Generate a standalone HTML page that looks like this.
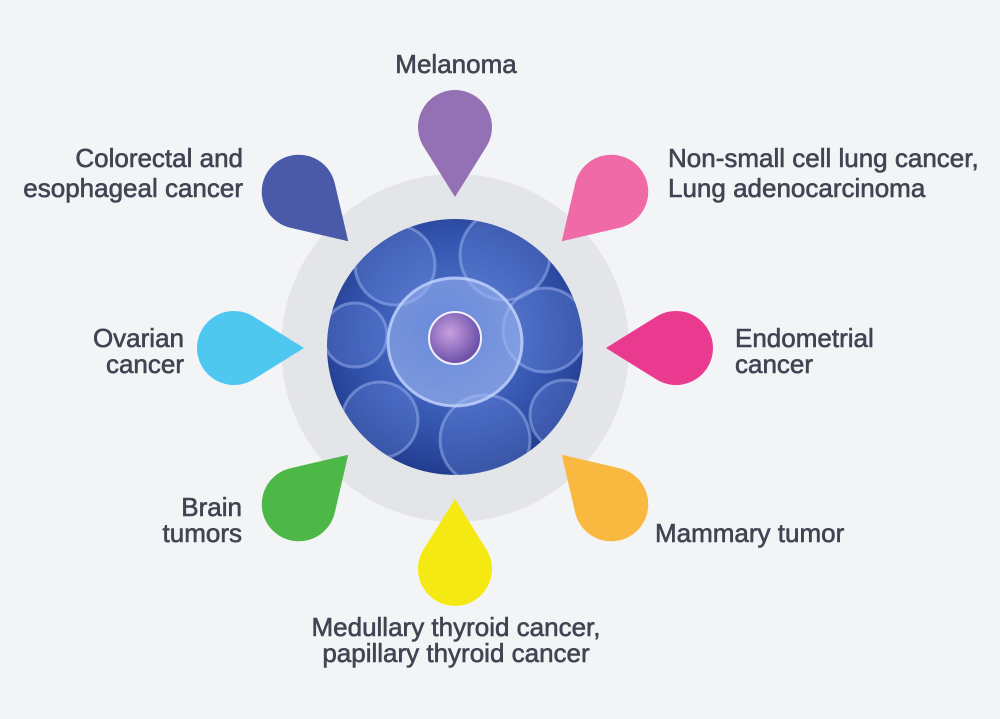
<!DOCTYPE html>
<html><head><style>
body{margin:0;background:#f3f4f6;}
svg{display:block}
text{font-family:"Liberation Sans",sans-serif;font-size:26px;fill:#3f4552;stroke:#3f4552;stroke-width:0.6;}
</style></head><body>
<svg width="1000" height="719" viewBox="0 0 1000 719">
<defs>
<radialGradient id="bg" cx="50%" cy="45%" r="60%">
<stop offset="0" stop-color="#5b7fd6"/><stop offset="0.6" stop-color="#3556b0"/><stop offset="1" stop-color="#1d3787"/>
</radialGradient>
<radialGradient id="cell" cx="45%" cy="40%" r="60%">
<stop offset="0" stop-color="#7f9ce8" stop-opacity="0.5"/><stop offset="1" stop-color="#a9c0f5" stop-opacity="0.6"/>
</radialGradient>
<radialGradient id="nuc" cx="40%" cy="40%" r="60%">
<stop offset="0" stop-color="#c8a0e0"/><stop offset="1" stop-color="#6b4fa8"/>
</radialGradient>
<path id="d" d="M0,70 L31.4,19.6 A37,37 0 1,0 -31.4,19.6 Z"/>
<clipPath id="cc"><circle cx="455" cy="347" r="128"/></clipPath>
</defs>
<circle cx="455" cy="348" r="174" fill="#e4e5e8"/>
<circle cx="455" cy="347" r="128" fill="url(#bg)"/>
<g clip-path="url(#cc)" fill="none" stroke="#9db4f0" stroke-opacity="0.5" stroke-width="3">
<circle cx="395" cy="265" r="40" fill="#6f8fe0" fill-opacity="0.35"/>
<circle cx="505" cy="255" r="45" fill="#6f8fe0" fill-opacity="0.3"/>
<circle cx="355" cy="335" r="32" fill="#6f8fe0" fill-opacity="0.3"/>
<circle cx="545" cy="330" r="42" fill="#6f8fe0" fill-opacity="0.3"/>
<circle cx="380" cy="420" r="38" fill="#6f8fe0" fill-opacity="0.3"/>
<circle cx="485" cy="440" r="45" fill="#6f8fe0" fill-opacity="0.3"/>
<circle cx="565" cy="415" r="35" fill="#6f8fe0" fill-opacity="0.3"/>
<ellipse cx="455" cy="342" rx="67" ry="64" fill="url(#cell)" stroke="#c4d6ff" stroke-opacity="0.8"/>
<circle cx="455" cy="338" r="26" fill="url(#nuc)" stroke="#fff" stroke-width="2" stroke-opacity="0.9"/>
</g>
<g transform="translate(455,348)">
<use href="#d" fill="#9471b4" transform="rotate(0) translate(0,-221)"/>
<use href="#d" fill="#ef6aa7" transform="rotate(45) translate(0,-221)"/>
<use href="#d" fill="#e93a90" transform="rotate(90) translate(0,-221)"/>
<use href="#d" fill="#f9b840" transform="rotate(135) translate(0,-221)"/>
<use href="#d" fill="#f5e914" transform="rotate(180) translate(0,-221)"/>
<use href="#d" fill="#4db848" transform="rotate(225) translate(0,-221)"/>
<use href="#d" fill="#4ec8ef" transform="rotate(270) translate(0,-221)"/>
<use href="#d" fill="#4a5aa8" transform="rotate(315) translate(0,-221)"/>
</g>
<text x="456" y="73" text-anchor="middle">Melanoma</text>
<text x="243" y="167" text-anchor="end">Colorectal and</text>
<text x="243" y="197" text-anchor="end">esophageal cancer</text>
<text x="668" y="167">Non-small cell lung cancer,</text>
<text x="668" y="197">Lung adenocarcinoma</text>
<text x="184" y="347" text-anchor="end">Ovarian</text>
<text x="184" y="373" text-anchor="end">cancer</text>
<text x="735" y="347">Endometrial</text>
<text x="735" y="373">cancer</text>
<text x="242" y="516" text-anchor="end">Brain</text>
<text x="242" y="542" text-anchor="end">tumors</text>
<text x="655" y="542">Mammary tumor</text>
<text x="456" y="636" text-anchor="middle">Medullary thyroid cancer,</text>
<text x="456" y="662" text-anchor="middle">papillary thyroid cancer</text>
</svg>
</body></html>
